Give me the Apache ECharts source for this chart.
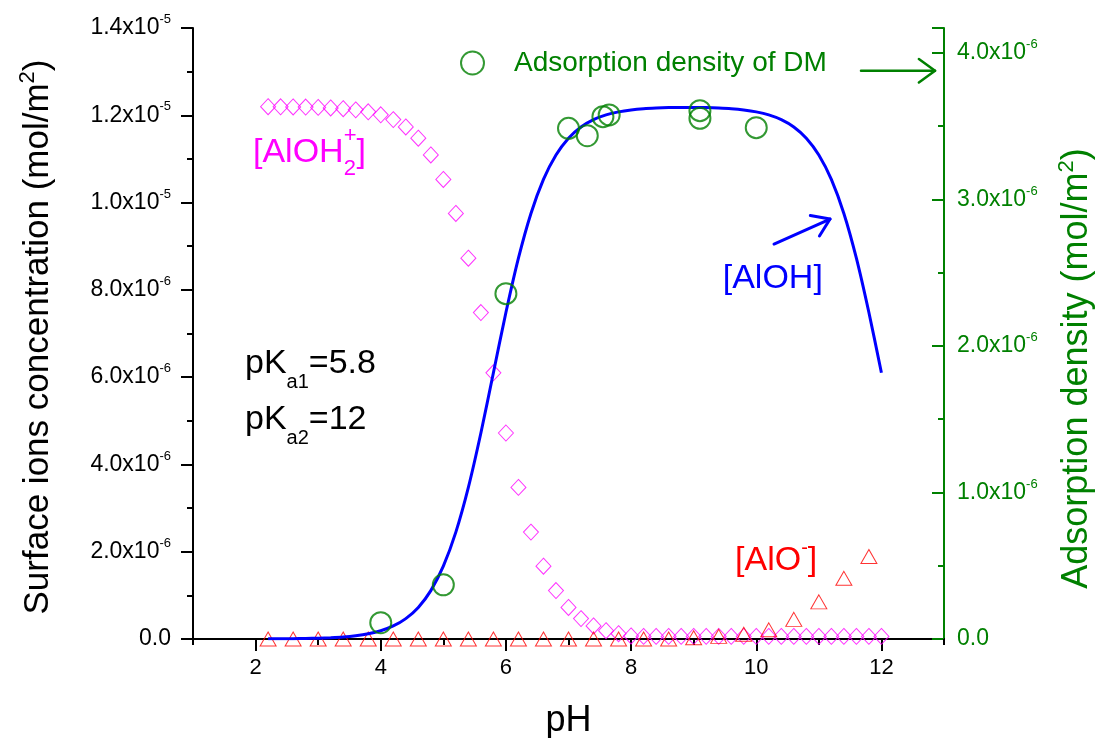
<!DOCTYPE html>
<html>
<head>
<meta charset="utf-8">
<script src="https://cdn.jsdelivr.net/npm/echarts@6/dist/echarts.min.js"></script>
<style>
  html, body { margin: 0; padding: 0; background: #ffffff; }
  #chart { width: 1104px; height: 738px; }
</style>
</head>
<body>
<div id="chart"></div>
<script>
// ---- data (surface concentrations in 1e-5 mol/m2, adsorption in 1e-6 mol/m2) ----
const phSpecies = [2.2, 2.4, 2.6, 2.8, 3.0, 3.2, 3.4, 3.6, 3.8, 4.0,
                   4.2, 4.4, 4.6, 4.8, 5.0, 5.2, 5.4, 5.6, 5.8, 6.0,
                   6.2, 6.4, 6.6, 6.8, 7.0, 7.2, 7.4, 7.6, 7.8, 8.0,
                   8.2, 8.4, 8.6, 8.8, 9.0, 9.2, 9.4, 9.6, 9.8, 10.0,
                   10.2, 10.4, 10.6, 10.8, 11.0, 11.2, 11.4, 11.6, 11.8, 12.0];

// [AlOH2+] (diamonds)
const alOH2 = [1.2197, 1.2195, 1.2192, 1.2188, 1.2181, 1.2169, 1.2152, 1.2124, 1.2079, 1.2010,
               1.1901, 1.1733, 1.1476, 1.1091, 1.0531, 0.9751, 0.8726, 0.7480, 0.6100, 0.4720,
               0.3474, 0.2449, 0.1669, 0.1109, 0.0724, 0.0467, 0.0299, 0.0190, 0.0121, 0.0070,
               0.0060, 0.0060, 0.0060, 0.0060, 0.0060, 0.0060, 0.0060, 0.0060, 0.0060, 0.0060,
               0.0060, 0.0060, 0.0060, 0.0060, 0.0060, 0.0060, 0.0060, 0.0060, 0.0060, 0.0060];

// [AlOH] (solid curve)
const alOH = [0.0003, 0.0005, 0.0008, 0.0012, 0.0019, 0.0031, 0.0048, 0.0077, 0.0121, 0.0190,
              0.0299, 0.0467, 0.0724, 0.1109, 0.1669, 0.2449, 0.3474, 0.4720, 0.6100, 0.7480,
              0.8726, 0.9751, 1.0531, 1.1091, 1.1476, 1.1733, 1.1901, 1.2010, 1.2078, 1.2122,
              1.2150, 1.2166, 1.2176, 1.2180, 1.2180, 1.2176, 1.2166, 1.2150, 1.2122, 1.2078,
              1.2010, 1.1901, 1.1733, 1.1476, 1.1091, 1.0531, 0.9751, 0.8726, 0.7480, 0.6100];

// [AlO-] (triangles)
const phAlO = [2.2, 2.6, 3.0, 3.4, 3.8, 4.2, 4.6, 5.0, 5.4, 5.8, 6.2, 6.6, 7.0,
               7.4, 7.8, 8.2, 8.6, 9.0, 9.4, 9.8, 10.2, 10.6, 11.0, 11.4, 11.8];
const alO = [0, 0, 0, 0, 0, 0, 0, 0, 0, 0, 0, 0, 0,
             0, 0, 0, 0, 0.003, 0.006, 0.011, 0.021, 0.045, 0.085, 0.139, 0.189];

// Adsorption density of DM (circles, right axis)
const phAds = [4.0, 5.0, 6.0, 7.0, 7.3, 7.55, 7.65, 9.1, 9.1, 10.0];
const adsDensity = [0.111, 0.370, 2.357, 3.485, 3.435, 3.565, 3.577, 3.606, 3.554, 3.490];

// tick labels
const xTickValues = [2, 4, 6, 8, 10, 12];
const xTickLabels = ['2', '4', '6', '8', '10', '12'];
const leftTickMant = ['0.0', '2.0', '4.0', '6.0', '8.0', '1.0', '1.2', '1.4'];
const leftTickPow = ['', '-6', '-6', '-6', '-6', '-5', '-5', '-5'];
const rightTickMant = ['0.0', '1.0', '2.0', '3.0', '4.0'];
const rightTickPow = ['', '-6', '-6', '-6', '-6'];

// ---- styling ----
const FONT = '"Liberation Sans", Arial, Helvetica, sans-serif';
const BLACK = '#000000';
const GREEN = '#008000';
const MAGENTA = '#FF00FF';
const RED = '#FF0000';
const BLUE = '#0000FF';

const tickRich = (color) => ({
  m: { fontFamily: FONT, fontSize: 23, lineHeight: 30, color: color },
  s: { fontFamily: FONT, fontSize: 13, lineHeight: 13, color: color, verticalAlign: 'top' }
});

const titleRich = (color, size) => ({
  t: { fontFamily: FONT, fontSize: size, lineHeight: 42, color: color },
  s: { fontFamily: FONT, fontSize: 22, lineHeight: 22, color: color, verticalAlign: 'top' }
});

const chart = echarts.init(document.getElementById('chart'), null, { renderer: 'canvas' });

const option = {
  animation: false,
  backgroundColor: '#ffffff',
  textStyle: { fontFamily: FONT },
  grid: { left: 193, right: 160, top: 28, bottom: 99, containLabel: false, outerBoundsMode: 'none' },
  legend: {
    data: ['Adsorption density of DM'],
    left: 455, top: 44,
    icon: 'circle',
    itemWidth: 23, itemHeight: 23,
    selectedMode: false,
    itemStyle: { color: 'transparent', borderColor: GREEN, borderWidth: 2 },
    textStyle: { fontFamily: FONT, fontSize: 28, color: GREEN, padding: [0, 0, 0, 25] }
  },
  xAxis: [
    {
      type: 'value', position: 'bottom', min: 1, max: 13, interval: 1,
      name: 'pH', nameLocation: 'middle', nameGap: 64,
      nameTextStyle: { fontFamily: FONT, fontSize: 36, color: BLACK },
      axisLine: { show: true, lineStyle: { color: BLACK, width: 2 } },
      axisTick: { show: true, length: 12, customValues: xTickValues, lineStyle: { color: BLACK, width: 2 } },
      axisLabel: {
        customValues: xTickValues, margin: 18, fontFamily: FONT, fontSize: 22, color: BLACK,
        formatter: (v) => { const i = xTickValues.indexOf(Math.round(v)); return i >= 0 ? xTickLabels[i] : ''; }
      },
      splitLine: { show: false }
    },
    {
      type: 'value', position: 'bottom', min: 1, max: 13, interval: 1,
      axisLine: { show: false },
      axisTick: { show: true, length: 6, lineStyle: { color: BLACK, width: 2 } },
      axisLabel: { show: false },
      splitLine: { show: false }
    },
    {
      type: 'value', position: 'top', min: 1, max: 13, interval: 1,
      axisLine: { show: true, lineStyle: { color: BLACK, width: 2 } },
      axisTick: { show: true, inside: true, length: 4, lineStyle: { color: BLACK, width: 1 } },
      axisLabel: { show: false },
      splitLine: { show: false }
    }
  ],
  yAxis: [
    {
      type: 'value', position: 'left', min: 0, max: 1.4, interval: 0.2,
      name: '{t|Surface ions concentration (mol/m}{s|2}{t|)}',
      nameLocation: 'middle', nameGap: 134, nameRotate: 90,
      nameTextStyle: { rich: titleRich(BLACK, 35), padding: [0, 7, 0, 0] },
      axisLine: { show: true, lineStyle: { color: BLACK, width: 2 } },
      axisTick: { show: true, length: 12, lineStyle: { color: BLACK, width: 2 } },
      minorTick: { show: true, splitNumber: 2, length: 6, lineStyle: { color: BLACK, width: 2 } },
      axisLabel: {
        margin: 22, rich: tickRich(BLACK),
        formatter: (v) => {
          const i = Math.round(v / 0.2);
          const m = leftTickMant[i], p = leftTickPow[i];
          if (m === undefined) return '';
          return p ? '{m|' + m + 'x10}{s|' + p + '}' : '{m|' + m + '}';
        }
      },
      splitLine: { show: false }
    },
    {
      type: 'value', position: 'right', min: 0, max: 4.17, interval: 1,
      name: '{t|Adsorption density (mol/m}{s|2}{t|)}',
      nameLocation: 'middle', nameGap: 112, nameRotate: 90,
      nameTextStyle: { rich: titleRich(GREEN, 36), padding: [0, 70, 0, 0] },
      axisLine: { show: true, lineStyle: { color: GREEN, width: 2 } },
      axisTick: { show: true, inside: true, length: 12, lineStyle: { color: GREEN, width: 2 } },
      axisLabel: {
        margin: 13, rich: tickRich(GREEN),
        formatter: (v) => {
          const i = Math.round(v);
          if (Math.abs(v - i) > 1e-6) return '';
          const m = rightTickMant[i], p = rightTickPow[i];
          if (m === undefined) return '';
          return p ? '{m|' + m + 'x10}{s|' + p + '}' : '{m|' + m + '}';
        }
      },
      splitLine: { show: false }
    },
    {
      type: 'value', position: 'right', min: 0, max: 4.17, interval: 0.5,
      axisLine: { show: false },
      axisTick: { show: true, inside: true, length: 6, lineStyle: { color: GREEN, width: 2 } },
      axisLabel: { show: false },
      splitLine: { show: false }
    }
  ],
  series: [
    {
      name: '[AlOH2+]', type: 'scatter', xAxisIndex: 0, yAxisIndex: 0,
      data: phSpecies.map((x, i) => [x, alOH2[i]]),
      symbol: 'diamond', symbolSize: [15, 16],
      itemStyle: { color: 'transparent', borderColor: MAGENTA, borderWidth: 1 },
      z: 2
    },
    {
      name: '[AlO-]', type: 'scatter', xAxisIndex: 0, yAxisIndex: 0,
      data: phAlO.map((x, i) => [x, alO[i]]),
      symbol: 'triangle', symbolSize: [16, 14],
      itemStyle: { color: 'transparent', borderColor: RED, borderWidth: 1 },
      z: 2
    },
    {
      name: '[AlOH]', type: 'line', xAxisIndex: 0, yAxisIndex: 0,
      data: phSpecies.map((x, i) => [x, alOH[i]]),
      showSymbol: false, smooth: 0.3,
      lineStyle: { color: BLUE, width: 3 },
      z: 3
    },
    {
      name: 'Adsorption density of DM', type: 'scatter', xAxisIndex: 0, yAxisIndex: 1,
      data: phAds.map((x, i) => [x, adsDensity[i]]),
      symbol: 'circle', symbolSize: 21,
      itemStyle: { color: 'transparent', borderColor: GREEN, borderWidth: 2 },
      z: 4
    }
  ]
};

chart.setOption(option);

// ---- annotations, anchored in data coordinates (pH, 1e-5 mol/m2) ----
const toPx = (pt) => chart.convertToPixel({ xAxisIndex: 0, yAxisIndex: 0 }, pt);

function arrow(from, to, color, width, headLen, headDeg) {
  const a = toPx(from), b = toPx(to);
  const ang = Math.atan2(a[1] - b[1], a[0] - b[0]);
  const r = headDeg * Math.PI / 180;
  const h1 = [b[0] + headLen * Math.cos(ang + r), b[1] + headLen * Math.sin(ang + r)];
  const h2 = [b[0] + headLen * Math.cos(ang - r), b[1] + headLen * Math.sin(ang - r)];
  const style = { stroke: color, lineWidth: width, fill: null, lineCap: 'round', lineJoin: 'round' };
  return [
    { type: 'polyline', shape: { points: [a, b] }, style: style, z: 10 },
    { type: 'polyline', shape: { points: [h1, b, h2] }, style: style, z: 10 }
  ];
}

function label(at, text, rich) {
  const p = toPx(at);
  return {
    type: 'text', x: p[0], y: p[1], z: 10,
    style: { text: text, rich: rich, align: 'left', verticalAlign: 'middle' }
  };
}

// zrender rich tokens take their colour from "fill"
const richMagenta = {
  m: { fontFamily: FONT, fontSize: 34, lineHeight: 55, fill: MAGENTA },
  sub: { fontFamily: FONT, fontSize: 22, lineHeight: 22, fill: MAGENTA, verticalAlign: 'bottom', width: 0 },
  sup: { fontFamily: FONT, fontSize: 22, lineHeight: 22, fill: MAGENTA, verticalAlign: 'top' }
};
const richBlue = {
  m: { fontFamily: FONT, fontSize: 34, lineHeight: 40, fill: BLUE }
};
const richRed = {
  m: { fontFamily: FONT, fontSize: 34, lineHeight: 46, fill: RED },
  sup: { fontFamily: FONT, fontSize: 20, lineHeight: 20, fill: RED, verticalAlign: 'top' }
};
const richBlack = {
  m: { fontFamily: FONT, fontSize: 34, lineHeight: 56, fill: BLACK },
  sub: { fontFamily: FONT, fontSize: 20, lineHeight: 20, fill: BLACK, verticalAlign: 'bottom' }
};

const graphics = [].concat(
  [label([1.958, 1.1147], '{m|[AlOH}{sub|2}{sup|+}{m|]}', richMagenta)],
  [label([9.464, 0.8255], '{m|[AlOH]}', richBlue)],
  [label([9.661, 0.1787], '{m|[AlO}{sup|-}{m|]}', richRed)],
  [label([1.831, 0.630], '{m|pK}{sub|a1}{m|=5.8}', richBlack)],
  [label([1.831, 0.5018], '{m|pK}{sub|a2}{m|=12}', richBlack)],
  arrow([10.284, 0.905], [11.179, 0.9623], BLUE, 3, 20, 34),
  arrow([11.674, 1.3021], [12.857, 1.3021], GREEN, 2.5, 20, 36)
);

chart.setOption({ graphic: graphics });
</script>
</body>
</html>
